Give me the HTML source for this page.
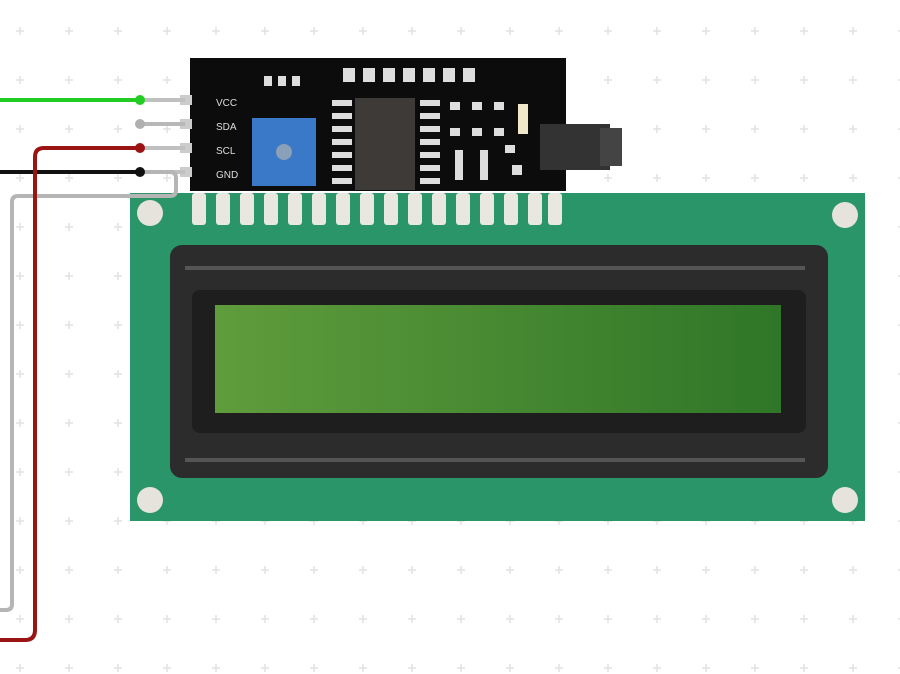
<!DOCTYPE html>
<html><head><meta charset="utf-8"><style>
html,body{margin:0;padding:0;background:#fff;}
svg{display:block;}
</style></head><body>
<svg width="900" height="674" viewBox="0 0 900 674" xmlns="http://www.w3.org/2000/svg" font-family="Liberation Sans, sans-serif">
<defs>
<pattern id="g" x="20" y="31" width="49" height="49" patternUnits="userSpaceOnUse">
<path d="M0 -4V4M-4 0H4" stroke="#e2e2e2" stroke-width="1.5"/>
<path d="M49 -4V4M45 0H53M0 45V53M-4 49H4M49 45V53M45 49H53" stroke="#e2e2e2" stroke-width="1.5"/>
</pattern>
<linearGradient id="lcd" x1="0" x2="1" y1="0" y2="0">
<stop offset="0" stop-color="#5f9c3c"/><stop offset="1" stop-color="#2f7628"/>
</linearGradient>
</defs>
<rect width="900" height="674" fill="#fff"/>
<rect width="900" height="674" fill="url(#g)"/>

<rect x="130" y="193" width="735" height="328" fill="#2a9568"/>
<circle cx="150" cy="213" r="13" fill="#e6e2dc"/>
<circle cx="845" cy="215" r="13" fill="#e6e2dc"/>
<circle cx="150" cy="500" r="13" fill="#e6e2dc"/>
<circle cx="845" cy="500" r="13" fill="#e6e2dc"/>
<rect x="170" y="245" width="658" height="233" rx="12" fill="#2c2c2c"/>
<line x1="185" y1="268" x2="805" y2="268" stroke="#555" stroke-width="4"/>
<line x1="185" y1="460" x2="805" y2="460" stroke="#555" stroke-width="4"/>
<rect x="192" y="290" width="614" height="143" rx="8" fill="#1e1e1e"/>
<rect x="215" y="305" width="566" height="108" fill="url(#lcd)"/>

<g fill="#e8e8e0">
<rect x="192" y="193" width="14" height="32" rx="3"/><rect x="216" y="193" width="14" height="32" rx="3"/>
<rect x="240" y="193" width="14" height="32" rx="3"/><rect x="264" y="193" width="14" height="32" rx="3"/>
<rect x="288" y="193" width="14" height="32" rx="3"/><rect x="312" y="193" width="14" height="32" rx="3"/>
<rect x="336" y="193" width="14" height="32" rx="3"/><rect x="360" y="193" width="14" height="32" rx="3"/>
<rect x="384" y="193" width="14" height="32" rx="3"/><rect x="408" y="193" width="14" height="32" rx="3"/>
<rect x="432" y="193" width="14" height="32" rx="3"/><rect x="456" y="193" width="14" height="32" rx="3"/>
<rect x="480" y="193" width="14" height="32" rx="3"/><rect x="504" y="193" width="14" height="32" rx="3"/>
<rect x="528" y="193" width="14" height="32" rx="3"/><rect x="548" y="193" width="14" height="32" rx="3"/>
</g>

<rect x="190" y="58" width="376" height="133" fill="#0c0c0c"/>
<rect x="252" y="118" width="64" height="68" fill="#3a78c8"/>
<circle cx="284" cy="152" r="8" fill="#8aa0b8"/>
<rect x="355" y="98" width="60" height="92" fill="#3e3a38"/>
<g fill="#ddd">
<rect x="332" y="100" width="20" height="6"/><rect x="332" y="113" width="20" height="6"/><rect x="332" y="126" width="20" height="6"/><rect x="332" y="139" width="20" height="6"/><rect x="332" y="152" width="20" height="6"/><rect x="332" y="165" width="20" height="6"/><rect x="332" y="178" width="20" height="6"/>
<rect x="420" y="100" width="20" height="6"/><rect x="420" y="113" width="20" height="6"/><rect x="420" y="126" width="20" height="6"/><rect x="420" y="139" width="20" height="6"/><rect x="420" y="152" width="20" height="6"/><rect x="420" y="165" width="20" height="6"/><rect x="420" y="178" width="20" height="6"/>
<rect x="343" y="68" width="12" height="14"/><rect x="363" y="68" width="12" height="14"/><rect x="383" y="68" width="12" height="14"/><rect x="403" y="68" width="12" height="14"/><rect x="423" y="68" width="12" height="14"/><rect x="443" y="68" width="12" height="14"/><rect x="463" y="68" width="12" height="14"/>
<rect x="450" y="102" width="10" height="8"/><rect x="472" y="102" width="10" height="8"/><rect x="494" y="102" width="10" height="8"/>
<rect x="450" y="128" width="10" height="8"/><rect x="472" y="128" width="10" height="8"/><rect x="494" y="128" width="10" height="8"/>
<rect x="455" y="150" width="8" height="30"/><rect x="480" y="150" width="8" height="30"/>
<rect x="505" y="145" width="10" height="8"/><rect x="512" y="165" width="10" height="10"/>
<rect x="264" y="76" width="8" height="10"/><rect x="278" y="76" width="8" height="10"/><rect x="292" y="76" width="8" height="10"/>
</g>
<rect x="518" y="104" width="10" height="30" fill="#f0e8c8"/>
<rect x="540" y="124" width="70" height="46" fill="#333"/>
<rect x="600" y="128" width="22" height="38" fill="#444"/>
<g fill="#ddd" font-size="10">
<text x="216" y="106">VCC</text><text x="216" y="130">SDA</text><text x="216" y="154">SCL</text><text x="216" y="178">GND</text>
</g>
<g fill="#ccc">
<rect x="180" y="95" width="12" height="10"/><rect x="180" y="119" width="12" height="10"/><rect x="180" y="143" width="12" height="10"/><rect x="180" y="167" width="12" height="10"/>
</g>

<g fill="none" stroke-width="4" stroke-linejoin="round">
<path d="M140 124H185" stroke="#b8b8b8"/>
<path d="M140 100H185" stroke="#c0c0c0"/>
<path d="M140 148H185" stroke="#c0c0c0"/>
<path d="M140 172H185" stroke="#c0c0c0"/>
<path d="M140 172H170Q176 172 176 178V190Q176 196 170 196H18Q12 196 12 202V604Q12 610 6 610H0" stroke="#b5b5b5"/>
<path d="M0 100H140" stroke="#22cc22"/>
<path d="M0 172H140" stroke="#111"/>
<path d="M140 148H44Q35 148 35 157V630Q35 640 25 640H0" stroke="#9a1414"/>
</g>
<circle cx="140" cy="100" r="5" fill="#22cc22"/>
<circle cx="140" cy="124" r="5" fill="#b0b0b0"/>
<circle cx="140" cy="148" r="5" fill="#9a1414"/>
<circle cx="140" cy="172" r="5" fill="#111"/>
</svg>
</body></html>
